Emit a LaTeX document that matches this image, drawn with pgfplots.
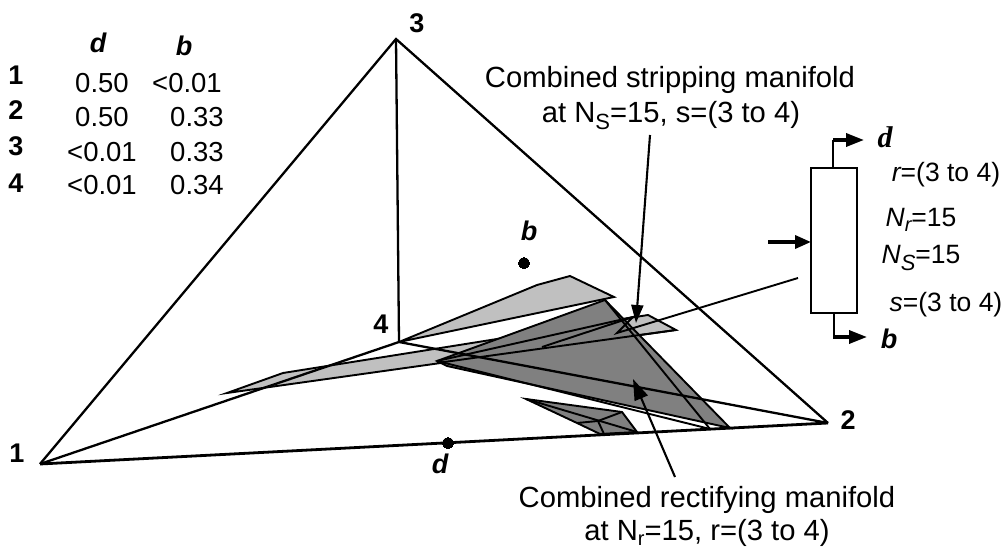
\documentclass[border=0pt]{standalone}
\usepackage{pgfplots}
\usepackage{fontspec}
\setmainfont{Liberation Sans}
\newfontfamily\serifb{Liberation Serif}
\pgfplotsset{compat=1.18}
\usetikzlibrary{arrows.meta}
\definecolor{lightg}{RGB}{192,192,192}
\definecolor{darkg}{RGB}{128,128,128}
\newcommand{\tsub}[1]{\raisebox{-7pt}{\fontsize{22}{24}\selectfont #1}}
\newcommand{\tsubb}[1]{\raisebox{-5pt}{\fontsize{20}{22}\selectfont #1}}
\tikzset{
  lab/.style={inner sep=0pt, anchor=base, font=\fontsize{29.2}{32}\selectfont, black},
  clab/.style={inner sep=0pt, anchor=base, font=\fontsize{26.5}{30}\selectfont, black},
  tlab/.style={inner sep=0pt, anchor=base, font=\fontsize{27.5}{30}\selectfont, black},
  blab/.style={inner sep=0pt, anchor=base, font=\fontsize{27}{30}\selectfont\bfseries, black},
}
\begin{document}
\begin{tikzpicture}
\begin{axis}[
  scale only axis, width=1007pt, height=548pt,
  xmin=0, xmax=1007, ymin=0, ymax=548, y dir=reverse,
  hide axis, clip=false,
  every axis plot/.append style={black, line width=1.9pt, mark=none, line join=miter},
]
\path[use as bounding box] (axis cs:0,0) rectangle (axis cs:1007,548);
% light polygons
\addplot[fill=lightg] coordinates {(399,342) (537,285) (570,276) (614,297)} -- cycle;
\addplot[fill=lightg] coordinates {(227,393) (283,373) (648,315) (676,330)} -- cycle;
% dark polygon
\addplot[fill=darkg] coordinates {(437,361) (605,300) (730,428) (447,366)} -- cycle;
\addplot[black] coordinates {(437,361) (710,429)};
\addplot[black] coordinates {(605,300) (710,429)};
\addplot[black] coordinates {(437,361) (633,317)};
\addplot[black] coordinates {(542,347) (633,317) (617,333) (798,278)};
\addplot[black] coordinates {(437,363) (676,330)};
% small dark polygon
\addplot[fill=darkg] coordinates {(526,399) (622,412) (637,432) (600,434) (577,423)} -- cycle;
\addplot[black] coordinates {(526,399) (637,432)};
\addplot[black] coordinates {(577,423) (598,421) (622,412)};
\addplot[black] coordinates {(598,421) (604,434)};
% tetrahedron
\addplot[line width=2.8pt] coordinates {(40,464) (828,423)};
\addplot[line width=2.3pt] coordinates {(40,464) (396,39) (828,423)};
\addplot[line width=2.3pt] coordinates {(396,39) (399,342)};
\addplot[line width=2.3pt] coordinates {(40,464) (399,342) (828,423)};
% dots
\addplot[only marks, mark=*, mark size=5.5pt, mark options={fill=black, draw=black, line width=0pt}] coordinates {(524,263) (448,443)};
% leaders
\addplot[line width=2.1pt, -{Triangle[length=18pt,width=12pt]}] coordinates {(650,135) (636,323)};
\addplot[line width=2.1pt, -{Triangle[length=21pt,width=14pt]}] coordinates {(675,477) (633,379)};
% column
\addplot[line width=2pt] coordinates {(811,168) (857,168) (857,313) (811,313)} -- cycle;
\addplot[line width=2pt] coordinates {(833,168) (833,140)};
\addplot[line width=2pt] coordinates {(834,313) (834,337)};
\addplot[line width=3.5pt, -{Triangle[length=18pt,width=13pt]}] coordinates {(833,140) (864,140)};
\addplot[line width=3.5pt, -{Triangle[length=18pt,width=13pt]}] coordinates {(833,337) (867,337)};
\addplot[line width=3.5pt, -{Triangle[length=16pt,width=13pt]}] coordinates {(768,242) (811,242)};
% text
\node[blab] at (axis cs:16,85) {1};
\node[blab] at (axis cs:16,120) {2};
\node[blab] at (axis cs:16,156) {3};
\node[blab] at (axis cs:16,193) {4};
\node[blab] at (axis cs:98,53) {\itshape d};
\node[blab] at (axis cs:184,56) {\itshape b};
\node[tlab] at (axis cs:102,93) {0.50};
\node[tlab] at (axis cs:187,93) {<0.01};
\node[tlab] at (axis cs:102,127) {0.50};
\node[tlab] at (axis cs:197,127) {0.33};
\node[tlab] at (axis cs:102,162) {<0.01};
\node[tlab] at (axis cs:197,162) {0.33};
\node[tlab] at (axis cs:102,195) {<0.01};
\node[tlab] at (axis cs:197,195) {0.34};
\node[blab] at (axis cs:417,33) {3};
\node[blab] at (axis cs:848,429) {2};
\node[blab] at (axis cs:17,462) {1};
\node[blab] at (axis cs:381,333) {4};
\node[blab] at (axis cs:529,241) {\itshape b};
\node[blab] at (axis cs:440,473) {\itshape d};
\node[lab] at (axis cs:670,88) {Combined stripping manifold};
\node[lab] at (axis cs:671,123) {at N\tsub{S}=15, s=(3 to 4)};
\node[lab] at (axis cs:707,507) {Combined rectifying manifold};
\node[lab] at (axis cs:707,540) {at N\tsubb{r}=15, r=(3 to 4)};
\node[clab] at (axis cs:946,182) {\itshape r\upshape=(3 to 4)};
\node[clab] at (axis cs:921,227) {\itshape N\tsubb{r}\upshape=15};
\node[clab] at (axis cs:921,263) {\itshape N\tsub{S}\upshape=15};
\node[clab] at (axis cs:946,312) {\itshape s\upshape=(3 to 4)};
\node[inner sep=0pt, anchor=base, font=\fontsize{30}{32}\selectfont\serifb\bfseries\itshape] at (axis cs:885,148) {d};
\node[blab] at (axis cs:889,348) {\itshape b};
\end{axis}
\end{tikzpicture}
\end{document}
